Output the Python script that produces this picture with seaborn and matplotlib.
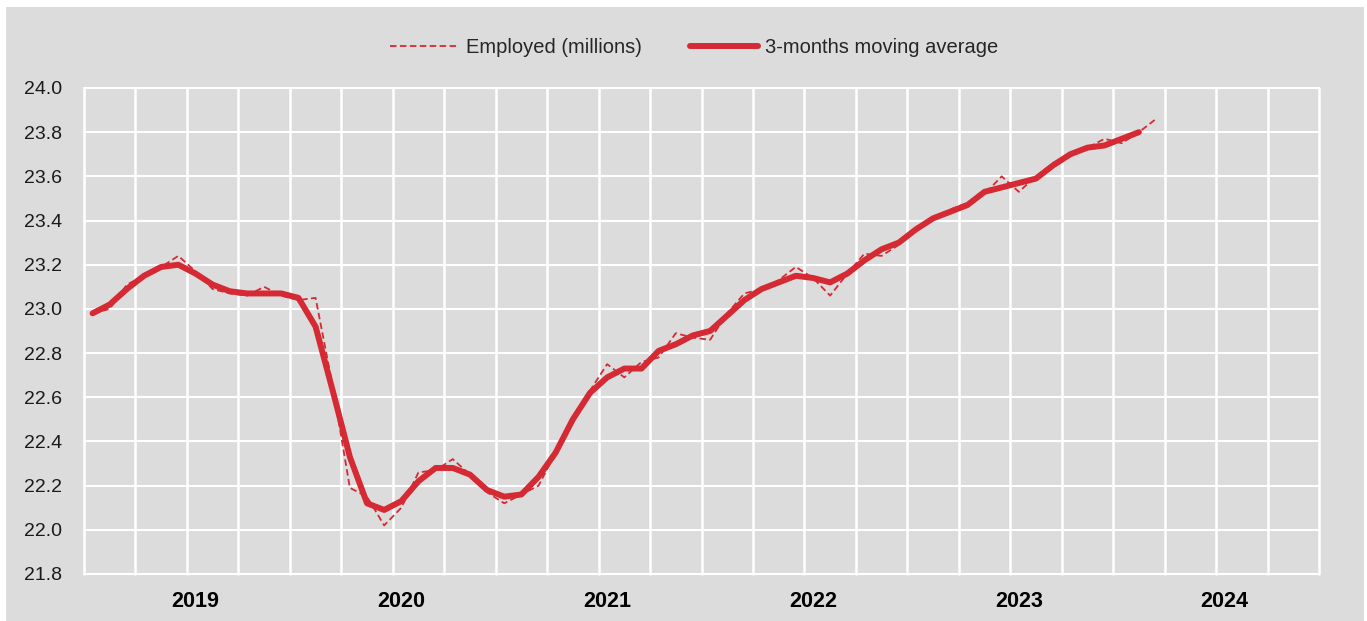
import numpy as np
import pandas as pd
import matplotlib
matplotlib.use("Agg")
import matplotlib.pyplot as plt
from matplotlib.patches import Rectangle
import seaborn as sns

# monthly data, Jan 2019 onwards (index 0 = Jan 2019)
employed = [22.98, 23.00, 23.11, 23.15, 23.19, 23.24, 23.17, 23.09, 23.07, 23.06,
            23.10, 23.06, 23.04, 23.05, 22.65, 22.19, 22.15, 22.02, 22.10, 22.26,
            22.27, 22.32, 22.25, 22.17, 22.12, 22.16, 22.20, 22.35, 22.50, 22.63,
            22.75, 22.69, 22.76, 22.78, 22.89, 22.87, 22.86, 22.98, 23.07, 23.09,
            23.13, 23.19, 23.14, 23.06, 23.16, 23.25, 23.24, 23.29, 23.37, 23.41,
            23.45, 23.48, 23.52, 23.60, 23.53, 23.60, 23.66, 23.70, 23.73, 23.77,
            23.75, 23.80, 23.86]
moving_avg = [22.98, 23.02, 23.09, 23.15, 23.19, 23.20, 23.16, 23.11, 23.08, 23.07,
              23.07, 23.07, 23.05, 22.92, 22.63, 22.33, 22.12, 22.09, 22.13, 22.22,
              22.28, 22.28, 22.25, 22.18, 22.15, 22.16, 22.24, 22.35, 22.50, 22.62,
              22.69, 22.73, 22.73, 22.81, 22.84, 22.88, 22.90, 22.97, 23.04, 23.09,
              23.12, 23.15, 23.14, 23.12, 23.16, 23.22, 23.27, 23.30, 23.36, 23.41,
              23.44, 23.47, 23.53, 23.55, 23.57, 23.59, 23.65, 23.70, 23.73, 23.74,
              23.77, 23.80]
years = [2019, 2020, 2021, 2022, 2023, 2024]
y_ticks = [21.8, 22.0, 22.2, 22.4, 22.6, 22.8, 23.0, 23.2, 23.4, 23.6, 23.8, 24.0]

red = "#D52A33"
bg = "#DCDCDC"

df_emp = pd.DataFrame({"month": np.arange(len(employed)), "value": employed})
df_ma = pd.DataFrame({"month": np.arange(len(moving_avg)), "value": moving_avg})

sns.set_style("white")
plt.rcParams["font.family"] = ["Liberation Sans", "DejaVu Sans"]

fig = plt.figure(figsize=(13.67, 6.21), dpi=100, facecolor="white")
fig.patches.append(Rectangle((6 / 1367, 0.5 / 621), 1358 / 1367, 614 / 621,
                             transform=fig.transFigure, facecolor=bg,
                             edgecolor="none", zorder=-10))
ax = fig.add_axes([84 / 1367, 1 - 574 / 621, 1235 / 1367, 486 / 621])
ax.set_facecolor(bg)

n_months = 12 * len(years)
ax.set_xlim(-0.5, n_months - 0.5)
ax.set_ylim(21.8, 24.0)

# white grid: quarterly verticals, 0.2 horizontals
for q in np.arange(-0.5, n_months, 3):
    ax.axvline(q, color="white", lw=1.8, zorder=0, clip_on=False)
for yv in y_ticks:
    ax.axhline(yv, color="white", lw=1.5, zorder=0, clip_on=False)

sns.lineplot(data=df_ma, x="month", y="value", ax=ax, color=red, lw=4.3,
             label="3-months moving average", zorder=3)
sns.lineplot(data=df_emp, x="month", y="value", ax=ax, color=red, lw=1.3,
             dashes=False, label="Employed (millions)", zorder=4)
ax.lines[-1].set_dashes((3.6, 1.9))
ax.lines[-2].set_solid_capstyle("round")
ax.lines[-2].set_solid_joinstyle("round")

for s in ax.spines.values():
    s.set_visible(False)

ax.set_yticks(y_ticks)
ax.set_yticklabels([f"{v:.1f}" for v in y_ticks], fontsize=14, color="#1a1a1a")
ax.set_xticks([(y - years[0]) * 12 + 6 for y in years])
ax.set_xticklabels([str(y) for y in years], fontsize=15.5, fontweight="bold",
                   color="black")
ax.tick_params(axis="y", length=0, pad=16)
ax.tick_params(axis="x", length=0, pad=12)
ax.set_xlabel("")
ax.set_ylabel("")

handles, labels = ax.get_legend_handles_labels()
ax.get_legend().remove()
order = [labels.index("Employed (millions)"), labels.index("3-months moving average")]
fig.legend([handles[i] for i in order], [labels[i] for i in order],
           loc="center", bbox_to_anchor=(0.508, 0.923), ncol=2, frameon=False,
           fontsize=14.5, handlelength=3.4, handletextpad=0.35, columnspacing=2.4,
           labelcolor="#262626")

fig.savefig("out.png", dpi=100, facecolor="white")
